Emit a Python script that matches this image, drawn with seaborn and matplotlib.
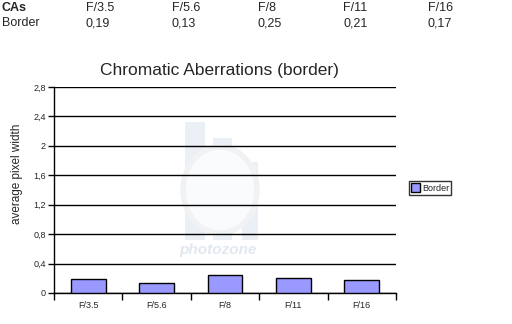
import matplotlib
matplotlib.use("Agg")
import matplotlib.pyplot as plt
import seaborn as sns
import pandas as pd
from matplotlib.ticker import FixedLocator
from matplotlib.patches import Rectangle, Ellipse

categories = ["F/3.5", "F/5.6", "F/8", "F/11", "F/16"]
border_values = [0.19, 0.13, 0.25, 0.21, 0.17]
value_labels = ["0,19", "0,13", "0,25", "0,21", "0,17"]
y_ticks = [0, 0.4, 0.8, 1.2, 1.6, 2.0, 2.4, 2.8]
y_tick_labels = ["0", "0,4", "0,8", "1,2", "1,6", "2", "2,4", "2,8"]

sns.set_theme(style="white")
plt.rcParams['font.family'] = ['Liberation Sans', 'DejaVu Sans']

W, H = 512, 324
fig = plt.figure(figsize=(W / 100, H / 100), dpi=100)
fig.patch.set_facecolor("white")

def fx(x):
    return x / W

def fy(y):
    return 1 - y / H

# header table
col_x = [86, 172, 258, 343, 428]
fig.text(fx(2), fy(8), "CAs", fontsize=9, fontweight="bold", va="center", ha="left")
fig.text(fx(2), fy(23), "Border", fontsize=9, va="center", ha="left")
for x, c, v in zip(col_x, categories, value_labels):
    fig.text(fx(x), fy(8), c, fontsize=9, va="center", ha="left")
    fig.text(fx(x), fy(23), v, fontsize=9, va="center", ha="left")

# faint watermark logo (decoration), drawn below the axes
wm = "#ebf0f7"
for (x0, y0, x1, y1) in [(185, 122, 205, 240), (213, 138, 232, 240), (242, 162, 258, 240)]:
    fig.patches.append(Rectangle((fx(x0), fy(y1)), fx(x1 - x0), (y1 - y0) / H,
                                 transform=fig.transFigure, facecolor=wm,
                                 edgecolor="none", zorder=0))
fig.patches.append(Ellipse((fx(220), fy(190)), fx(74), 86 / H, transform=fig.transFigure,
                           facecolor="#fafbfd", edgecolor="#f1f2f4", linewidth=4, zorder=0.5))
fig.text(fx(218), fy(250), "photozone", fontsize=11, style="italic", fontweight="bold",
         color="#e2e8f0", ha="center", va="center", zorder=0.6)

# plot area
left, right, top, bottom = 54, 396, 87, 293
ax = fig.add_axes([fx(left), fy(bottom), (right - left) / W, (bottom - top) / H])
ax.set_zorder(2)

df = pd.DataFrame({"aperture": categories, "Border": border_values})
sns.barplot(data=df, x="aperture", y="Border", ax=ax, color="#9999FF",
            saturation=1, width=0.51, edgecolor="black", linewidth=1,
            label="Border", zorder=3)

ax.set_ylim(0, 2.8)
ax.set_xlim(-0.5, 4.5)
ax.set_yticks(y_ticks)
ax.set_yticklabels(y_tick_labels, fontsize=6.5)
ax.yaxis.grid(True, color="black", linewidth=1)
ax.set_axisbelow(True)
ax.tick_params(axis="y", length=4, width=1, color="black", left=True, pad=2)
ax.set_xticks(range(len(categories)))
ax.set_xticklabels(categories, fontsize=6.5)
ax.tick_params(axis="x", which="major", length=0, pad=6)
ax.xaxis.set_minor_locator(FixedLocator([-0.5, 0.5, 1.5, 2.5, 3.5, 4.5]))
ax.tick_params(axis="x", which="minor", length=5, width=1, color="black", bottom=True)
for s in ["top", "right"]:
    ax.spines[s].set_visible(False)
for s in ["left", "bottom"]:
    ax.spines[s].set_color("black")
    ax.spines[s].set_linewidth(1)
ax.set_xlabel("")
ax.set_ylabel("average pixel width", fontsize=8.5)
ax.yaxis.set_label_coords(-(54 - 23) / 342, (293 - 174) / 206)
ax.set_facecolor("none")

fig.text(fx(219), fy(70), "Chromatic Aberrations (border)", fontsize=12.5,
         ha="center", va="center")

leg = ax.legend(loc="center left", bbox_to_anchor=((409 - 54) / 342, (293 - 188) / 206),
                fontsize=6.5, frameon=True, fancybox=False, edgecolor="black",
                handlelength=1, handleheight=1, borderpad=0.25, handletextpad=0.2,
                borderaxespad=0)
leg.get_frame().set_linewidth(1)

fig.savefig("out.png", dpi=100, facecolor="white")
